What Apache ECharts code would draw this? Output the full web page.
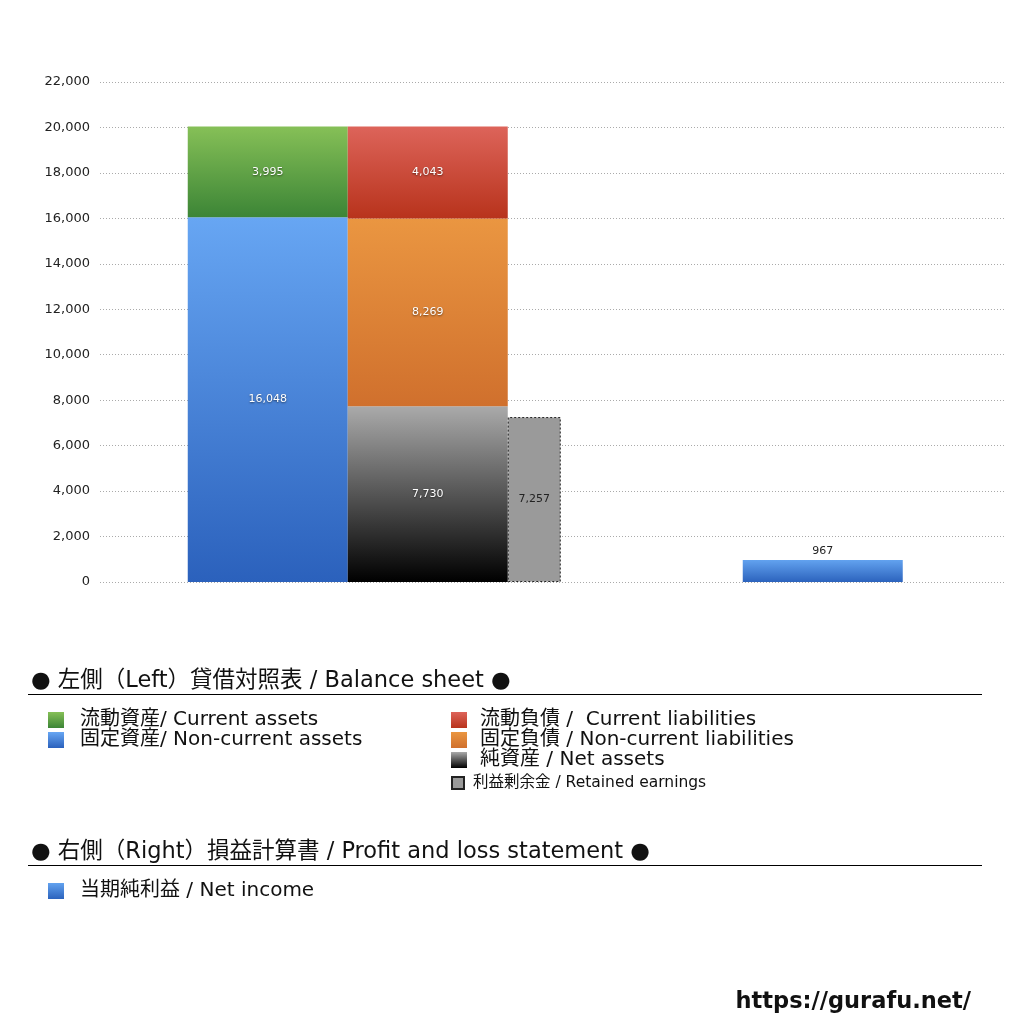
<!DOCTYPE html>
<html>
<head>
<meta charset="utf-8">
<script src="https://cdn.jsdelivr.net/npm/echarts@6/dist/echarts.min.js"></script>
<style>
  html, body { margin: 0; padding: 0; background: #fff; }
  #box { width: 1024px; height: 1024px; }
</style>
</head>
<body>
<div id="box"></div>
<script>
// 数据
var categories = ['左側', '右側'];
var currentAssets = [3995, '-'];
var nonCurrentAssets = [16048, '-'];
var currentLiabilities = [4043, '-'];
var nonCurrentLiabilities = [8269, '-'];
var netAssets = [7730, '-'];
var retainedEarnings = [7257, '-'];
var netIncome = ['-', 967];
var yMin = 0, yMax = 22000, yStep = 2000;

var names = {
    ca: '流動資産/ Current assets',
    nca: '固定資産/ Non-current assets',
    cl: '流動負債 /  Current liabilities',
    ncl: '固定負債 / Non-current liabilities',
    na: '純資産 / Net assets',
    re: '利益剰余金 / Retained earnings',
    ni: '当期純利益 / Net income'
};

var font = '"DejaVu Sans", "Noto Sans CJK JP", sans-serif';

function grad(top, bottom) {
    return new echarts.graphic.LinearGradient(0, 0, 0, 1, [
        { offset: 0, color: top },
        { offset: 1, color: bottom }
    ]);
}

function fmt(v) {
    return Number(v).toLocaleString('en-US');
}

var whiteLabel = {
    show: true,
    position: 'inside',
    color: '#fff',
    fontSize: 11,
    fontFamily: font,
    textShadowColor: 'rgba(0,0,0,0.55)',
    textShadowBlur: 2,
    textShadowOffsetY: 1,
    formatter: function (p) { return fmt(p.value); }
};

var box = document.getElementById('box');
var chart = echarts.init(box);

var option = {
    animation: false,
    textStyle: { fontFamily: font },

    title: [
        {
            text: '● 左側（Left）貸借対照表 / Balance sheet ●',
            left: 31, top: 670, padding: 0,
            textStyle: { fontSize: 22.5, fontWeight: 'normal', color: '#111', fontFamily: font }
        },
        {
            text: '● 右側（Right）損益計算書 / Profit and loss statement ●',
            left: 31, top: 841, padding: 0,
            textStyle: { fontSize: 22.5, fontWeight: 'normal', color: '#111', fontFamily: font }
        },
        {
            text: 'https://gurafu.net/',
            right: 53, top: 991, padding: 0,
            textStyle: { fontSize: 22.5, fontWeight: 'bold', color: '#111', fontFamily: '"DejaVu Sans", sans-serif' }
        }
    ],

    graphic: [
        { type: 'line', shape: { x1: 28, y1: 694.5, x2: 982, y2: 694.5 }, style: { stroke: '#000', lineWidth: 1 } },
        { type: 'line', shape: { x1: 28, y1: 865.5, x2: 982, y2: 865.5 }, style: { stroke: '#000', lineWidth: 1 } }
    ],

    legend: [
        {
            data: [names.ca, names.nca],
            orient: 'vertical', left: 48, top: 710, padding: 0, itemGap: 0,
            itemWidth: 16, itemHeight: 16, icon: 'rect',
            textStyle: { fontSize: 20, lineHeight: 20, color: '#111', padding: [0, 0, 0, 11] }
        },
        {
            data: [names.cl, names.ncl, names.na],
            orient: 'vertical', left: 451, top: 710, padding: 0, itemGap: 0,
            itemWidth: 16, itemHeight: 16, icon: 'rect',
            textStyle: { fontSize: 20, lineHeight: 20, color: '#111', padding: [0, 0, 0, 8] }
        },
        {
            data: [names.re],
            orient: 'vertical', left: 451, top: 775, padding: 0, itemGap: 0,
            itemWidth: 12, itemHeight: 12, icon: 'rect',
            textStyle: { fontSize: 15.5, lineHeight: 16, color: '#111', padding: [0, 0, 0, 4] }
        },
        {
            data: [names.ni],
            orient: 'vertical', left: 48, top: 881, padding: 0, itemGap: 0,
            itemWidth: 16, itemHeight: 16, icon: 'rect',
            textStyle: { fontSize: 20, lineHeight: 20, color: '#111', padding: [0, 0, 0, 11] }
        }
    ],

    grid: { left: 100, right: 19, top: 82, bottom: 442, containLabel: false },

    xAxis: [
        {
            type: 'category', data: categories,
            axisLine: { show: false }, axisTick: { show: false }, axisLabel: { show: false }
        },
        {
            type: 'category', data: categories,
            axisLine: { show: false }, axisTick: { show: false }, axisLabel: { show: false }
        }
    ],

    yAxis: {
        type: 'value', min: yMin, max: yMax, interval: yStep,
        axisLine: { show: false }, axisTick: { show: false },
        axisLabel: {
            margin: 10, fontSize: 13, color: '#222', fontFamily: font,
            formatter: function (v) { return fmt(v); }
        },
        splitLine: { lineStyle: { type: [1, 2], color: '#aaa', width: 1 } }
    },

    series: [
        // 左側のずらし
        { name: 'spacerL', type: 'bar', xAxisIndex: 0, stack: 'sp', barWidth: 96, barGap: 0, data: ['-', '-'], silent: true },
        // 資産
        {
            name: names.nca, type: 'bar', xAxisIndex: 0, stack: 'assets', barWidth: 160, barGap: 0,
            data: nonCurrentAssets,
            itemStyle: { color: grad('#67a6f3', '#2b61bc') },
            label: whiteLabel
        },
        {
            name: names.ca, type: 'bar', xAxisIndex: 0, stack: 'assets', barWidth: 160, barGap: 0,
            data: currentAssets,
            itemStyle: { color: grad('#86c057', '#3c8536') },
            label: whiteLabel
        },
        // 負債・純資産
        {
            name: names.na, type: 'bar', xAxisIndex: 0, stack: 'liab', barWidth: 160, barGap: 0,
            data: netAssets,
            itemStyle: { color: grad('#aaaaaa', '#000000') },
            label: whiteLabel
        },
        {
            name: names.ncl, type: 'bar', xAxisIndex: 0, stack: 'liab', barWidth: 160, barGap: 0,
            data: nonCurrentLiabilities,
            itemStyle: { color: grad('#ea9641', '#d0702d') },
            label: whiteLabel
        },
        {
            name: names.cl, type: 'bar', xAxisIndex: 0, stack: 'liab', barWidth: 160, barGap: 0,
            data: currentLiabilities,
            itemStyle: { color: grad('#dd645a', '#b8331c') },
            label: whiteLabel
        },
        // 利益剰余金
        {
            name: names.re, type: 'bar', xAxisIndex: 0, stack: 're', barWidth: 53, barGap: 0,
            data: retainedEarnings,
            itemStyle: { color: '#9a9a9a', borderColor: '#222', borderWidth: 1, borderType: [2, 2] },
            label: {
                show: true, position: 'inside', color: '#222', fontSize: 11, fontFamily: font,
                formatter: function (p) { return fmt(p.value); }
            }
        },
        // 右側のずらし
        { name: 'spacerR', type: 'bar', xAxisIndex: 1, stack: 'sp2', barWidth: 88, barGap: 0, data: ['-', '-'], silent: true },
        {
            name: names.ni, type: 'bar', xAxisIndex: 1, stack: 'ni', barWidth: 160, barGap: 0,
            data: netIncome,
            itemStyle: { color: grad('#62a2ef', '#2c63bd') },
            label: {
                show: true, position: 'top', distance: 3, color: '#222', fontSize: 11, fontFamily: font,
                formatter: function (p) { return fmt(p.value); }
            }
        }
    ]
};

chart.setOption(option);
</script>
</body>
</html>
